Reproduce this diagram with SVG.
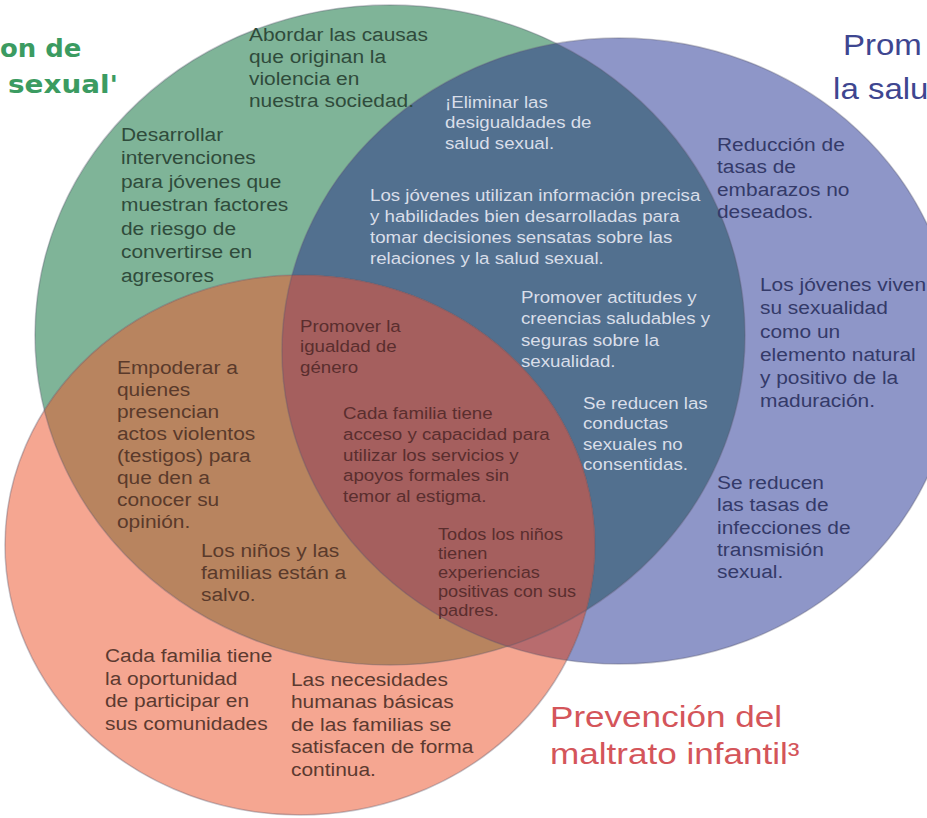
<svg xmlns="http://www.w3.org/2000/svg" width="927" height="818" viewBox="0 0 927 818">
<style>
  .t { font-family: "Liberation Sans", Arial, sans-serif; font-size: 19px; }
  .s { font-size: 17px; }
  .xs { font-size: 16.5px; }
  .ttl { font-size: 30px; }
  .ttl2 { font-size: 30px; }
  .g { fill: #2f4b3b; }
  .lb { fill: #d9dee9; }
  .nv { fill: #343a69; }
  .br { fill: #5a3a2b; }
  .tr { fill: #5a2e2e; }
  .or { fill: #5c3a30; }
  .edge { fill: none; stroke: #5a5a6e; stroke-opacity: 0.35; stroke-width: 1.5; }
</style>
<defs>
  <ellipse id="eG" cx="390" cy="335" rx="355" ry="330"/>
  <ellipse id="eB" cx="619" cy="351" rx="337" ry="313"/>
  <ellipse id="eO" cx="300" cy="545" rx="295" ry="270"/>
  <clipPath id="cG"><use href="#eG"/></clipPath>
  <clipPath id="cB"><use href="#eB"/></clipPath>
</defs>
<rect width="927" height="818" fill="#ffffff"/>

<g id="set-green"><use href="#eG" fill="#7fb498"/></g>
<g id="set-blue"><use href="#eB" fill="#8e96c8"/></g>
<g id="set-orange"><use href="#eO" fill="#f5a691"/></g>
<g id="overlaps">
  <g clip-path="url(#cG)"><use href="#eB" fill="#52708f"/></g>
  <g clip-path="url(#cG)"><use href="#eO" fill="#b8845f"/></g>
  <g clip-path="url(#cB)"><use href="#eO" fill="#b86c6e"/></g>
  <g clip-path="url(#cG)"><g clip-path="url(#cB)"><use href="#eO" fill="#a55f5e"/></g></g>
</g>
<g id="outlines">
  <use href="#eG" class="edge"/>
  <use href="#eB" class="edge"/>
  <use href="#eO" class="edge"/>
</g>

<g id="titles">
  <text transform="translate(0,57) scale(1.08,1)" style="font-family:'DejaVu Sans',sans-serif;font-weight:bold;font-size:24px" fill="#3b9b61"><tspan x="0">on de</tspan></text>
  <text transform="translate(8,93) scale(1.16,1)" style="font-family:'DejaVu Sans',sans-serif;font-weight:bold;font-size:24px" fill="#3b9b61"><tspan x="0">sexual'</tspan></text>
  <text transform="translate(843,55) scale(1.1,1)" class="t ttl" fill="#3e4690"><tspan x="0">Prom</tspan><tspan x="-9" dy="44">la salu</tspan></text>
  <text transform="translate(550,727) scale(1.17,1)" class="t ttl2" fill="#d4555a"><tspan x="0">Prevención del</tspan><tspan x="0" dy="37">maltrato infantil³</tspan></text>
</g>

<g id="node-green-1">
  <text transform="translate(249,41) scale(1.1,1)" class="t g"><tspan x="0">Abordar las causas</tspan><tspan x="0" dy="22">que originan la</tspan><tspan x="0" dy="22">violencia en</tspan><tspan x="0" dy="22">nuestra sociedad.</tspan></text>
</g>
<g id="node-green-2">
  <text transform="translate(121,141) scale(1.1,1)" class="t g"><tspan x="0">Desarrollar</tspan><tspan x="0" dy="23.5">intervenciones</tspan><tspan x="0" dy="23.5">para jóvenes que</tspan><tspan x="0" dy="23.5">muestran factores</tspan><tspan x="0" dy="23.5">de riesgo de</tspan><tspan x="0" dy="23.5">convertirse en</tspan><tspan x="0" dy="23.5">agresores</tspan></text>
</g>

<g id="node-gb-1">
  <text transform="translate(445,108) scale(1.1,1)" class="t s lb"><tspan x="0">¡Eliminar las</tspan><tspan x="0" dy="20.5">desigualdades de</tspan><tspan x="0" dy="20.5">salud sexual.</tspan></text>
</g>
<g id="node-gb-2">
  <text transform="translate(370,201) scale(1.1,1)" class="t s lb"><tspan x="0">Los jóvenes utilizan información precisa</tspan><tspan x="0" dy="21">y habilidades bien desarrolladas para</tspan><tspan x="0" dy="21">tomar decisiones sensatas sobre las</tspan><tspan x="0" dy="21">relaciones y la salud sexual.</tspan></text>
</g>
<g id="node-gb-3">
  <text transform="translate(521,303) scale(1.1,1)" class="t s lb"><tspan x="0">Promover actitudes y</tspan><tspan x="0" dy="21.5">creencias saludables y</tspan><tspan x="0" dy="21.5">seguras sobre la</tspan><tspan x="0" dy="21.5">sexualidad.</tspan></text>
</g>
<g id="node-gb-4">
  <text transform="translate(583,409) scale(1.1,1)" class="t s lb"><tspan x="0">Se reducen las</tspan><tspan x="0" dy="20.3">conductas</tspan><tspan x="0" dy="20.3">sexuales no</tspan><tspan x="0" dy="20.3">consentidas.</tspan></text>
</g>

<g id="node-blue-1">
  <text transform="translate(717,151) scale(1.1,1)" class="t nv"><tspan x="0">Reducción de</tspan><tspan x="0" dy="22.5">tasas de</tspan><tspan x="0" dy="22.5">embarazos no</tspan><tspan x="0" dy="22.5">deseados.</tspan></text>
</g>
<g id="node-blue-2">
  <text transform="translate(760,291) scale(1.1,1)" class="t nv"><tspan x="0">Los jóvenes viven</tspan><tspan x="0" dy="23.3">su sexualidad</tspan><tspan x="0" dy="23.3">como un</tspan><tspan x="0" dy="23.3">elemento natural</tspan><tspan x="0" dy="23.3">y positivo de la</tspan><tspan x="0" dy="23.3">maduración.</tspan></text>
</g>
<g id="node-blue-3">
  <text transform="translate(717,489) scale(1.1,1)" class="t nv"><tspan x="0">Se reducen</tspan><tspan x="0" dy="22.3">las tasas de</tspan><tspan x="0" dy="22.3">infecciones de</tspan><tspan x="0" dy="22.3">transmisión</tspan><tspan x="0" dy="22.3">sexual.</tspan></text>
</g>

<g id="node-triple-1">
  <text transform="translate(300,332) scale(1.1,1)" class="t s tr"><tspan x="0">Promover la</tspan><tspan x="0" dy="20.5">igualdad de</tspan><tspan x="0" dy="20.5">género</tspan></text>
</g>
<g id="node-triple-2">
  <text transform="translate(343,419) scale(1.1,1)" class="t s tr"><tspan x="0">Cada familia tiene</tspan><tspan x="0" dy="20.8">acceso y capacidad para</tspan><tspan x="0" dy="20.8">utilizar los servicios y</tspan><tspan x="0" dy="20.8">apoyos formales sin</tspan><tspan x="0" dy="20.8">temor al estigma.</tspan></text>
</g>
<g id="node-triple-3">
  <text transform="translate(438,540) scale(1.1,1)" class="t xs tr"><tspan x="0">Todos los niños</tspan><tspan x="0" dy="19">tienen</tspan><tspan x="0" dy="19">experiencias</tspan><tspan x="0" dy="19">positivas con sus</tspan><tspan x="0" dy="19">padres.</tspan></text>
</g>

<g id="node-go-1">
  <text transform="translate(117,374) scale(1.1,1)" class="t br"><tspan x="0">Empoderar a</tspan><tspan x="0" dy="22">quienes</tspan><tspan x="0" dy="22">presencian</tspan><tspan x="0" dy="22">actos violentos</tspan><tspan x="0" dy="22">(testigos) para</tspan><tspan x="0" dy="22">que den a</tspan><tspan x="0" dy="22">conocer su</tspan><tspan x="0" dy="22">opinión.</tspan></text>
</g>
<g id="node-go-2">
  <text transform="translate(201,557) scale(1.1,1)" class="t br"><tspan x="0">Los niños y las</tspan><tspan x="0" dy="22">familias están a</tspan><tspan x="0" dy="22">salvo.</tspan></text>
</g>

<g id="node-orange-1">
  <text transform="translate(105,662) scale(1.1,1)" class="t or"><tspan x="0">Cada familia tiene</tspan><tspan x="0" dy="22.7">la oportunidad</tspan><tspan x="0" dy="22.7">de participar en</tspan><tspan x="0" dy="22.7">sus comunidades</tspan></text>
</g>
<g id="node-orange-2">
  <text transform="translate(291,686) scale(1.1,1)" class="t or"><tspan x="0">Las necesidades</tspan><tspan x="0" dy="22.5">humanas básicas</tspan><tspan x="0" dy="22.5">de las familias se</tspan><tspan x="0" dy="22.5">satisfacen de forma</tspan><tspan x="0" dy="22.5">continua.</tspan></text>
</g>
</svg>
